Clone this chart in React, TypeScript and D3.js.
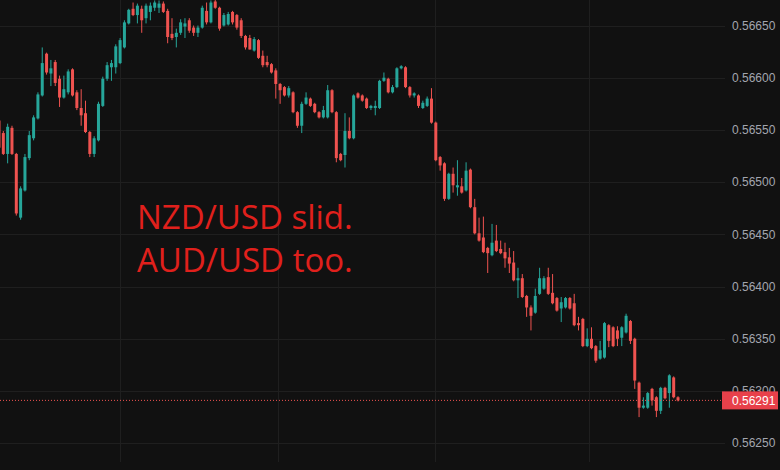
import React from "react";
import * as d3 from "d3";

const OPEN = [56559,56547,56527,56552,56527,56466,56492,56523,56542,56561,56583,56623,56604,56615,56599,56581,56586,56608,56586,56571,56566,56548,56527,56540,56573,56599,56610,56610,56614,56629,56652,56666,56660,56666,56657,56663,56667,56667,56671,56664,56642,56639,56643,56649,56655,56648,56643,56648,56664,56653,56673,56667,56650,56651,56663,56660,56655,56640,56638,56626,56636,56621,56615,56613,56607,56594,56591,56583,56586,56567,56554,56575,56580,56575,56567,56562,56562,56588,56567,56527,56526,56549,56542,56585,56583,56580,56571,56571,56571,56597,56599,56586,56591,56609,56610,56591,56583,56583,56571,56573,56580,56557,56524,56518,56484,56508,56495,56496,56492,56512,56476,56451,56447,56437,56430,56444,56436,56433,56428,56423,56406,56408,56391,56380,56375,56393,56398,56409,56394,56389,56379,56380,56389,56384,56365,56369,56343,56350,56343,56331,56332,56363,56361,56358,56351,56356,56367,56350,56308,56284,56284,56302,56294,56281,56303,56298,56313,56294];
const HIGH = [56561,56549,56556,56554,56528,56496,56527,56549,56564,56586,56629,56624,56617,56617,56602,56602,56608,56609,56588,56589,56578,56549,56544,56577,56601,56615,56617,56632,56638,56655,56666,56672,56671,56669,56671,56672,56674,56674,56673,56666,56657,56647,56656,56657,56657,56650,56650,56669,56672,56674,56676,56668,56662,56663,56664,56661,56657,56641,56641,56639,56637,56626,56621,56614,56609,56595,56592,56592,56587,56568,56577,56586,56581,56576,56568,56573,56593,56589,56568,56528,56566,56562,56584,56586,56584,56581,56574,56578,56598,56605,56600,56593,56610,56612,56611,56592,56586,56584,56578,56582,56590,56558,56525,56519,56509,56514,56521,56504,56519,56513,56484,56466,56467,56438,56460,56459,56444,56442,56437,56434,56418,56412,56392,56382,56398,56418,56410,56418,56412,56390,56390,56390,56390,56393,56371,56370,56360,56361,56344,56348,56366,56364,56362,56362,56362,56374,56368,56351,56309,56294,56299,56303,56295,56304,56304,56316,56314,56295];
const LOW = [56530,56526,56518,56526,56468,56464,56491,56521,56540,56560,56582,56603,56592,56592,56572,56580,56584,56582,56569,56554,56547,56524,56524,56539,56572,56597,56597,56604,56613,56628,56651,56659,56652,56643,56652,56655,56664,56662,56662,56633,56636,56629,56641,56638,56643,56640,56639,56647,56651,56652,56666,56645,56649,56650,56651,56646,56638,56627,56627,56625,56618,56610,56610,56604,56580,56575,56582,56581,56566,56552,56547,56574,56572,56566,56561,56561,56561,56566,56519,56520,56514,56541,56541,56580,56577,56570,56569,56564,56570,56596,56585,56585,56590,56608,56590,56581,56581,56571,56570,56572,56556,56520,56511,56482,56483,56490,56487,56489,56491,56475,56450,56443,56432,56413,56429,56433,56431,56418,56413,56405,56389,56389,56371,56358,56374,56392,56397,56392,56383,56376,56366,56379,56378,56362,56358,56342,56342,56340,56327,56330,56331,56342,56342,56343,56343,56355,56345,56302,56275,56283,56283,56286,56275,56278,56292,56284,56293,56290];
const CLOSE = [56533,56527,56553,56527,56470,56494,56524,56545,56562,56584,56614,56605,56609,56595,56581,56589,56606,56583,56571,56564,56548,56527,56542,56575,56599,56612,56614,56630,56636,56653,56665,56660,56669,56655,56669,56669,56672,56671,56663,56639,56638,56643,56653,56652,56645,56643,56648,56667,56653,56672,56667,56647,56660,56661,56653,56648,56640,56629,56627,56637,56619,56612,56612,56605,56594,56588,56583,56590,56567,56554,56575,56581,56573,56567,56562,56569,56588,56567,56523,56521,56549,56542,56583,56581,56578,56571,56573,56573,56597,56600,56586,56591,56609,56611,56591,56583,56585,56573,56576,56580,56557,56521,56516,56484,56508,56497,56497,56490,56511,56476,56451,56444,56433,56432,56442,56434,56432,56427,56422,56406,56408,56390,56380,56372,56391,56408,56408,56393,56384,56377,56385,56389,56379,56363,56363,56343,56350,56341,56329,56339,56365,56348,56343,56350,56361,56372,56348,56310,56284,56286,56298,56291,56281,56303,56293,56315,56294,56291];

const PRICE_TICKS = [0.5665, 0.566, 0.5655, 0.565, 0.5645, 0.564, 0.5635, 0.563, 0.5625];
const TIME_GRID = [27.9, 64.4, 100.7, 136.5];
const LAST_PRICE = 0.56291;
const NOTE_LINES = ["NZD/USD slid.", "AUD/USD too."];

const W = 780;
const H = 470;
const PLOT_R = 725;

export default function App() {
  const n = OPEN.length;
  const x = d3.scaleLinear().domain([0, n - 1]).range([-1, 678]);
  const y = d3
    .scaleLinear()
    .domain([0.5665, 0.5625])
    .range([25.5, 443.2]);
  const up = "#26a69a";
  const down = "#ef5350";
  const fmt = d3.format(".5f");
  const candles = OPEN.map((o, i) => ({
    o: o / 1e5,
    h: HIGH[i] / 1e5,
    l: LOW[i] / 1e5,
    c: CLOSE[i] / 1e5,
  }));
  return (
    <svg
      width={W}
      height={H}
      style={{ position: "fixed", left: 0, top: 0, background: "#111111" }}
    >
      <rect x={0} y={0} width={W} height={H} fill="#111111" />
      {PRICE_TICKS.map((t) => (
        <line
          key={"h" + t}
          x1={0}
          x2={PLOT_R}
          y1={Math.round(y(t)) + 0.5}
          y2={Math.round(y(t)) + 0.5}
          stroke="#1f1f1f"
        />
      ))}
      {TIME_GRID.map((t) => (
        <line
          key={"v" + t}
          x1={Math.round(x(t)) + 0.5}
          x2={Math.round(x(t)) + 0.5}
          y1={0}
          y2={462}
          stroke="#1f1f1f"
        />
      ))}
      {candles.map((d, i) => {
        const cx = x(i);
        const col = d.c >= d.o ? up : down;
        const top = y(Math.max(d.o, d.c));
        const bot = y(Math.min(d.o, d.c));
        return (
          <g key={i}>
            <line
              x1={cx}
              x2={cx}
              y1={y(d.h)}
              y2={y(d.l)}
              stroke={col}
              strokeWidth={1}
            />
            <rect
              x={cx - 1.5}
              y={top}
              width={3}
              height={Math.max(1, bot - top)}
              fill={col}
            />
          </g>
        );
      })}
      <line
        x1={0}
        x2={722}
        y1={y(LAST_PRICE)}
        y2={y(LAST_PRICE)}
        stroke={down}
        strokeWidth={1}
        strokeDasharray="1,2"
      />
      {PRICE_TICKS.map((t) => (
        <text
          key={"t" + t}
          x={732}
          y={y(t)}
          dy="0.35em"
          fill="#a3a6af"
          fontSize={12}
          fontFamily="'Liberation Sans', Arial, sans-serif"
        >
          {fmt(t)}
        </text>
      ))}
      <rect x={722} y={y(LAST_PRICE) - 9} width={56} height={18} fill="#e8404a" />
      <text
        x={732}
        y={y(LAST_PRICE)}
        dy="0.35em"
        fill="#ffffff"
        fontSize={12}
        fontFamily="'Liberation Sans', Arial, sans-serif"
      >
        {fmt(LAST_PRICE)}
      </text>
      {NOTE_LINES.map((s, i) => (
        <text
          key={s}
          x={137}
          y={229 + i * 43}
          fill="#e0201c"
          fontSize={33}
          fontFamily="'Open Sans', sans-serif"
        >
          {s}
        </text>
      ))}
    </svg>
  );
}
